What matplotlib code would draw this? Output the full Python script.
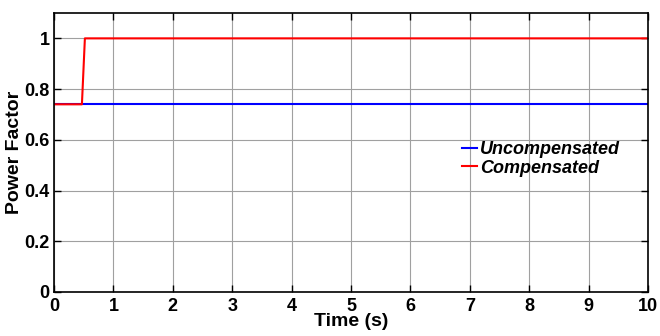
import numpy as np
import matplotlib.pyplot as plt

plt.rcParams['font.family'] = 'Liberation Sans'

# power factor vs time
t_unc = [0, 10]
pf_unc = [0.74, 0.74]
t_comp = [0, 0.47, 0.52, 10]
pf_comp = [0.74, 0.74, 1.0, 1.0]

fig = plt.figure(figsize=(6.6, 3.36), dpi=100)
ax = fig.add_axes([54/660, 1-292/336, 594/660, 279/336])

ax.plot(t_unc, pf_unc, color='#0000ff', lw=1.5, label='Uncompensated')
ax.plot(t_comp, pf_comp, color='#ff0000', lw=1.5, label='Compensated')

ax.set_xlim(0, 10)
ax.set_ylim(0, 1.1)
ax.set_xticks(np.arange(0, 11, 1))
ax.set_yticks([0, 0.2, 0.4, 0.6, 0.8, 1])
ax.set_yticklabels(['0', '0.2', '0.4', '0.6', '0.8', '1'])
ax.grid(True, color='#a0a0a0', lw=0.8)
ax.tick_params(direction='in', top=True, right=True, length=5, width=1,
               labelsize=13)
ax.tick_params(axis='x', pad=4)
ax.tick_params(axis='y', pad=3)
for lab in ax.get_xticklabels() + ax.get_yticklabels():
    lab.set_fontweight('bold')
for s in ax.spines.values():
    s.set_linewidth(1.2)

ax.set_xlabel('Time (s)', fontsize=14, fontweight='bold', labelpad=-1)
ax.set_ylabel('Power Factor', fontsize=14, fontweight='bold', labelpad=1)

leg = ax.legend(loc='upper left', bbox_to_anchor=(0.66, 0.6), frameon=False,
                handlelength=0.8, handletextpad=0.2, labelspacing=0.1,
                prop={'size': 13, 'weight': 'bold', 'style': 'italic'})

fig.savefig('out.png', dpi=100)
